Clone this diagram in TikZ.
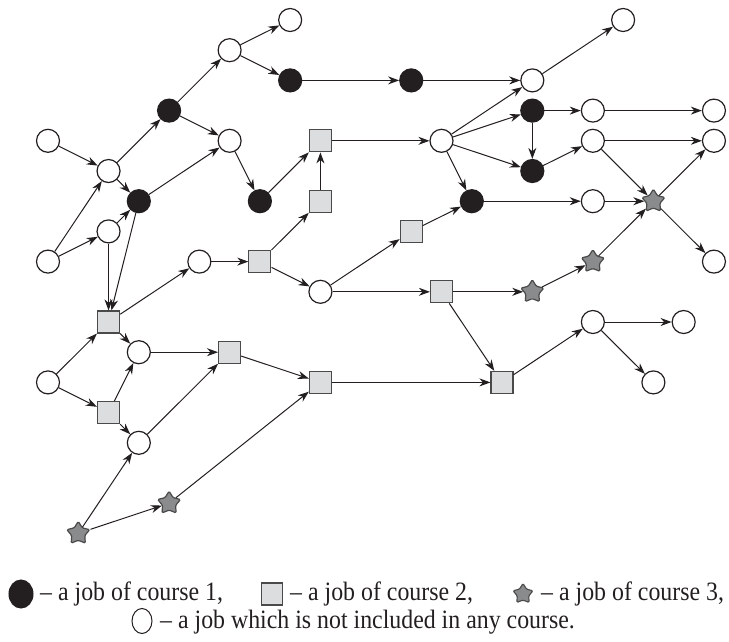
\documentclass[tikz,border=0pt]{standalone}
\usepackage{fontspec}
\usepackage{graphicx}
\setmainfont{Liberation Serif}
\usetikzlibrary{shapes.geometric,arrows.meta}
\definecolor{sqfill}{HTML}{DCDDDF}
\definecolor{stfill}{HTML}{8A8B8D}
\definecolor{edgec}{HTML}{231F20}
\definecolor{frame}{HTML}{4A4A4A}
\newcommand{\lgt}[1]{\scalebox{0.9}[1]{#1}}
\begin{document}
\begin{tikzpicture}[x=1pt,y=-1pt,
  wc/.style={circle,draw=edgec,fill=white,line width=1.2pt,minimum size=23pt,inner sep=0pt},
  bc/.style={circle,draw=edgec,fill=edgec,line width=1.2pt,minimum size=23pt,inner sep=0pt},
  sq/.style={rectangle,draw=frame,fill=sqfill,line width=1.2pt,minimum size=22pt,inner sep=0pt},
  st/.style={star,star points=5,star point ratio=1.75,draw=frame,fill=stfill,line width=1.2pt,minimum size=24pt,inner sep=0pt,rounded corners=1.2pt},
  ar/.style={-{Stealth[length=11pt,width=8pt,inset=3.5pt]},draw=edgec,line width=1pt},
  lgtext/.style={anchor=base west,inner sep=0pt,font=\fontsize{26.5}{30}\selectfont,text=edgec},
]
\useasboundingbox (0,0) rectangle (729,641);
\begin{scope}[x=30.27pt,y=-30.2pt,shift={(48pt,-20pt)}]
% row 0
\node[wc] (a1) at (8,0) {};
\node[wc] (a2) at (19,0) {};
% row 1
\node[wc] (b1) at (6,1) {};
% row 2
\node[bc] (c1) at (8,2) {};
\node[bc] (c2) at (12,2) {};
\node[wc] (c3) at (16,2) {};
% row 3
\node[bc] (d1) at (4,3) {};
\node[bc] (d2) at (16,3) {};
\node[wc] (d3) at (18,3) {};
\node[wc] (d4) at (22,3) {};
% row 4
\node[wc] (e1) at (0,4) {};
\node[wc] (e2) at (6,4) {};
\node[sq] (e3) at (9,4) {};
\node[wc] (e4) at (13,4) {};
\node[wc] (e5) at (18,4) {};
\node[wc] (e6) at (22,4) {};
% row 5
\node[wc] (f1) at (2,5) {};
\node[bc] (f2) at (16,5) {};
% row 6
\node[bc] (g1) at (3,6) {};
\node[bc] (g2) at (7,6) {};
\node[sq] (g3) at (9,6) {};
\node[bc] (g4) at (14,6) {};
\node[wc] (g5) at (18,6) {};
\node[st] (g6) at (20,6) {};
% row 7
\node[wc] (h1) at (2,7) {};
\node[sq] (h2) at (12,7) {};
% row 8
\node[wc] (i1) at (0,8) {};
\node[wc] (i2) at (5,8) {};
\node[sq] (i3) at (7,8) {};
\node[st] (i4) at (18,8) {};
\node[wc] (i5) at (22,8) {};
% row 9
\node[wc] (j1) at (9,9) {};
\node[sq] (j2) at (13,9) {};
\node[st] (j3) at (16,9) {};
% row 10
\node[sq] (k1) at (2,10) {};
\node[wc] (k2) at (18,10) {};
\node[wc] (k3) at (21,10) {};
% row 11
\node[wc] (l1) at (3,11) {};
\node[sq] (l2) at (6,11) {};
% row 12
\node[wc] (m1) at (0,12) {};
\node[sq] (m2) at (9,12) {};
\node[sq] (m3) at (15,12) {};
\node[wc] (m4) at (20,12) {};
% row 13
\node[sq] (n1) at (2,13) {};
% row 14
\node[wc] (o1) at (3,14) {};
% row 16, 17
\node[st] (p1) at (4,16) {};
\node[st] (q1) at (1,17) {};
\end{scope}

% connectors
\draw[ar] (e1) -- (f1);
\draw[ar] (f1) -- (d1);
\draw[ar] (d1) -- (b1);
\draw[ar] (b1) -- (a1);
\draw[ar] (b1) -- (c1);
\draw[ar] (c1) -- (c2);
\draw[ar] (c2) -- (c3);
\draw[ar] (c3) -- (a2);
\draw[ar] (d1) -- (e2);
\draw[ar] (f1) -- (g1);
\draw[ar] (g1) -- (e2);
\draw[ar] (e2) -- (g2);
\draw[ar] (g2) -- (e3);
\draw[ar] (g3) -- (e3);
\draw[ar] (e3) -- (e4);
\draw[ar] (i1) -- (f1);
\draw[ar] (i1) -- (h1);
\draw[ar] (h1) -- (g1);
\draw[ar] (h1) -- (k1);
\draw[ar] (g1) -- (k1);
\draw[ar] (k1) -- (i2);
\draw[ar] (i2) -- (i3);
\draw[ar] (i3) -- (g3);
\draw[ar] (i3) -- (j1);
\draw[ar] (j1) -- (h2);
\draw[ar] (h2) -- (g4);
\draw[ar] (j1) -- (j2);
\draw[ar] (j2) -- (j3);
\draw[ar] (j3) -- (i4);
\draw[ar] (i4) -- (g6);
\draw[ar] (j2) -- (m3);
\draw[ar] (e4) -- (c3);
\draw[ar] (e4) -- (d2);
\draw[ar] (e4) -- (f2);
\draw[ar] (e4) -- (g4);
\draw[ar] (d2) -- (f2);
\draw[ar] (d2) -- (d3);
\draw[ar] (d3) -- (d4);
\draw[ar] (f2) -- (e5);
\draw[ar] (e5) -- (e6);
\draw[ar] (e5) -- (g6);
\draw[ar] (g4) -- (g5);
\draw[ar] (g5) -- (g6);
\draw[ar] (g6) -- (e6);
\draw[ar] (g6) -- (i5);
\draw[ar] (k1) -- (l1);
\draw[ar] (l1) -- (l2);
\draw[ar] (m1) -- (k1);
\draw[ar] (m1) -- (n1);
\draw[ar] (n1) -- (l1);
\draw[ar] (n1) -- (o1);
\draw[ar] (o1) -- (l2);
\draw[ar] (l2) -- (m2);
\draw[ar] (m2) -- (m3);
\draw[ar] (q1) -- (o1);
\draw[ar] (q1) -- (p1);
\draw[ar] (p1) -- (m2);
\draw[ar] (m3) -- (k2);
\draw[ar] (k2) -- (k3);
\draw[ar] (k2) -- (m4);

% legend
\node[ellipse,draw=edgec,fill=edgec,line width=1pt,minimum width=24pt,minimum height=28pt,inner sep=0pt] (lg1) at (21,594) {};
\node[lgtext] (lt1) at (40,600) {\lgt{– a job of course 1,}};
\node[rectangle,draw=frame,fill=sqfill,line width=1.1pt,minimum width=21pt,minimum height=22pt,inner sep=0pt] (lg2) at (272,594) {};
\node[lgtext] (lt2) at (290,600) {\lgt{– a job of course 2,}};
\node[star,star points=5,star point ratio=1.75,draw=frame,fill=stfill,line width=1.1pt,minimum size=21pt,inner sep=0pt,rounded corners=1.2pt] (lg3) at (523,594) {};
\node[lgtext] (lt3) at (541,600) {\lgt{– a job of course 3,}};
\node[ellipse,draw=edgec,fill=white,line width=1pt,minimum width=20pt,minimum height=25pt,inner sep=0pt] (lg4) at (142,621) {};
\node[lgtext] (lt4) at (160,628) {\lgt{– a job which is not included in any course.}};
\end{tikzpicture}
\end{document}
